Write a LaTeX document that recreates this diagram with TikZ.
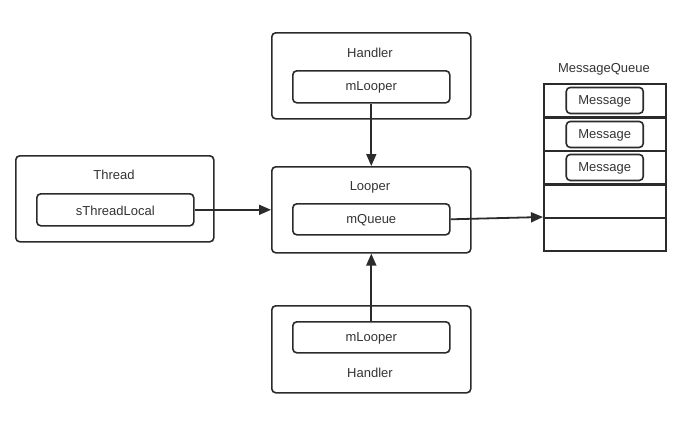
\documentclass[tikz,border=0pt]{standalone}
\usepackage{fontspec}
\setmainfont{Liberation Sans}
\usetikzlibrary{arrows.meta}
\definecolor{ln}{HTML}{2B2B2B}
\definecolor{tx}{HTML}{333333}
\tikzset{
  outerbox/.style={draw=ln, line width=1.6pt, rounded corners=4pt},
  innerbox/.style={draw=ln, line width=1.6pt, rounded corners=4pt},
  lbl/.style={text=tx, font=\fontsize{13}{15}\selectfont, inner sep=0pt},
  conn/.style={draw=ln, line width=1.8pt, -{Triangle[length=12pt,width=10pt]}},
  cell/.style={draw=ln, line width=1.5pt}
}
\begin{document}
\begin{tikzpicture}[x=1pt,y=-1pt]
\useasboundingbox (0,0) rectangle (689,421);
% Top Handler
\node[outerbox, minimum width=199pt, minimum height=86pt, anchor=north west] (h1) at (271,32) {};
\node[lbl] (h1t) at (370,53) {Handler};
\node[innerbox, minimum width=157pt, minimum height=32pt, anchor=north west, inner sep=0pt] (h1m) at (292,70) {};
\node[lbl] (h1mt) at ([yshift=-1pt]h1m.center) {mLooper};
% Looper
\node[outerbox, minimum width=199pt, minimum height=86pt, anchor=north west] (lp) at (271,166) {};
\node[lbl] (lpt) at (370,187) {Looper};
\node[innerbox, minimum width=157pt, minimum height=31pt, anchor=north west, inner sep=0pt] (mq) at (292,203) {};
\node[lbl] (mqt) at ([yshift=-1pt]mq.center) {mQueue};
% Bottom Handler
\node[outerbox, minimum width=199pt, minimum height=87pt, anchor=north west] (h2) at (271,305) {};
\node[innerbox, minimum width=157pt, minimum height=31pt, anchor=north west, inner sep=0pt] (h2m) at (292,321) {};
\node[lbl] (h2mt) at ([yshift=-1pt]h2m.center) {mLooper};
\node[lbl] (h2t) at (370,373) {Handler};
% Thread
\node[outerbox, minimum width=198pt, minimum height=86pt, anchor=north west] (th) at (15,155) {};
\node[lbl] (tht) at (114,175) {Thread};
\node[innerbox, minimum width=157pt, minimum height=32pt, anchor=north west, inner sep=0pt] (tl) at (36,193) {};
\node[lbl] (tlt) at ([yshift=-1pt]tl.center) {sThreadLocal};
% MessageQueue
\node[lbl] (mqtitle) at (604,69) {MessageQueue};
\foreach \i/\y in {1/83,2/117,3/150,4/184,5/217}{
  \node[cell, minimum width=122pt, minimum height=33.4pt, anchor=north west, inner sep=0pt] (c\i) at (543,\y) {};
}
\foreach \i in {1,2,3}{
  \node[innerbox, minimum width=77pt, minimum height=26pt, inner sep=0pt] (m\i) at (c\i.center) {};
  \node[lbl] (m\i t) at ([yshift=-1pt]m\i.center) {Message};
}
\coordinate (qin) at (c5.north west);
% connectors
\draw[conn] (h1m.south) -- (lp.north);
\draw[conn] (h2m.north) -- (lp.south);
\draw[conn] (tl.east) -- (lp.west |- tl.east);
\draw[conn] (mq.east) -- (qin);
\end{tikzpicture}
\end{document}
